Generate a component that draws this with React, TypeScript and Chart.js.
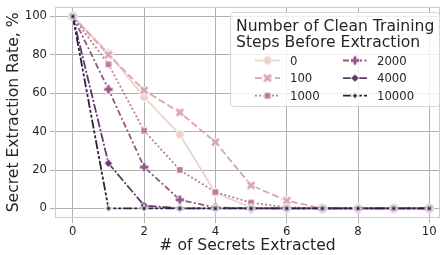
import React, { useEffect, useRef } from 'react';
import { Chart, registerables } from 'chart.js';

Chart.register(...registerables);

const xValues = [0, 1, 2, 3, 4, 5, 6, 7, 8, 9, 10];
const seriesLabels = ['0', '100', '1000', '2000', '4000', '10000'];
const s0 = [100, 81, 58, 38.5, 8, 0.5, 0, 0, 0, 0, 0];
const s100 = [100, 80, 61.5, 50, 34.5, 12, 4, 0, 0, 0, 0];
const s1000 = [100, 75, 40.5, 20, 8.5, 3, 0.5, 0, 0, 0, 0];
const s2000 = [100, 62, 21.5, 4.5, 0.5, 0, 0, 0, 0, 0, 0];
const s4000 = [100, 23.5, 1.5, 0, 0, 0, 0, 0, 0, 0, 0];
const s10000 = [100, 0, 0, 0, 0, 0, 0, 0, 0, 0, 0];
const seriesValues = [s0, s100, s1000, s2000, s4000, s10000];
const xTicks = [0, 2, 4, 6, 8, 10];
const yTicks = [0, 20, 40, 60, 80, 100];
const xTitle = '# of Secrets Extracted';
const yTitle = 'Secret Extraction Rate, %';
const legendTitle = ['Number of Clean Training', 'Steps Before Extraction'];

const colors = ['#edd1cb', '#daa4ac', '#bd7a98', '#935685', '#613969', '#2d1e3e'];
const dashes = [[], [7, 3], [2, 2.2], [6, 2.5, 2, 2.5], [9, 2, 2, 2], [9, 2, 3, 2, 3, 2]];
const markerKinds = ['circle', 'x', 'square', 'plus', 'diamond', 'star'];
const FONT = '"DejaVu Sans", sans-serif';
const TEXT = '#262626';
const LW = 1.8;

function makeMarker(kind: string, color: string): HTMLCanvasElement {
  const c = document.createElement('canvas');
  c.width = 14;
  c.height = 14;
  const g = c.getContext('2d') as CanvasRenderingContext2D;
  g.translate(7, 7);
  g.fillStyle = color;
  g.strokeStyle = '#ffffff';
  g.lineWidth = 1;
  if (kind === 'circle') {
    g.beginPath();
    g.arc(0, 0, 4.4, 0, Math.PI * 2);
    g.fill();
    g.stroke();
  } else if (kind === 'square') {
    g.beginPath();
    g.rect(-3.3, -3.3, 6.6, 6.6);
    g.fill();
    g.stroke();
  } else if (kind === 'diamond') {
    const r = 4.3;
    g.beginPath();
    g.moveTo(0, -r);
    g.lineTo(r, 0);
    g.lineTo(0, r);
    g.lineTo(-r, 0);
    g.closePath();
    g.fill();
    g.stroke();
  } else if (kind === 'star') {
    const R = 4.4;
    const r = 1.7;
    g.beginPath();
    for (let k = 0; k < 8; k++) {
      const a = -Math.PI / 2 + (k * Math.PI) / 4;
      const rad = k % 2 === 0 ? R : r;
      const px = Math.cos(a) * rad;
      const py = Math.sin(a) * rad;
      if (k === 0) g.moveTo(px, py);
      else g.lineTo(px, py);
    }
    g.closePath();
    g.fill();
    g.stroke();
  } else {
    const cross = kind === 'x';
    const L = cross ? 3.3 : 4.2;
    const path = (ext: number) => {
      g.beginPath();
      if (cross) {
        g.moveTo(-L - ext, -L - ext);
        g.lineTo(L + ext, L + ext);
        g.moveTo(-L - ext, L + ext);
        g.lineTo(L + ext, -L - ext);
      } else {
        g.moveTo(-L - ext, 0);
        g.lineTo(L + ext, 0);
        g.moveTo(0, -L - ext);
        g.lineTo(0, L + ext);
      }
    };
    g.lineCap = 'butt';
    path(0.6);
    g.strokeStyle = '#ffffff';
    g.lineWidth = 4.6;
    g.stroke();
    path(0);
    g.strokeStyle = color;
    g.lineWidth = 2.8;
    g.stroke();
  }
  return c;
}

export default function App() {
  const ref = useRef<HTMLCanvasElement | null>(null);

  useEffect(() => {
    document.body.style.margin = '0';
    const canvas = ref.current;
    if (!canvas) return;
    Chart.defaults.font.family = FONT;
    const markers = markerKinds.map((k, i) => makeMarker(k, colors[i]));

    const decor = {
      id: 'decor',
      beforeDatasetsDraw(chart: any) {
        const { ctx, chartArea } = chart;
        ctx.save();
        ctx.strokeStyle = '#cccccc';
        ctx.lineWidth = 1;
        ctx.strokeRect(
          Math.round(chartArea.left) + 0.5,
          Math.round(chartArea.top) + 0.5,
          Math.round(chartArea.right - chartArea.left) - 1,
          Math.round(chartArea.bottom - chartArea.top) - 1
        );
        ctx.restore();
      },
      afterDraw(chart: any) {
        const ctx = chart.ctx as CanvasRenderingContext2D;
        ctx.save();
        const bx = 230.5, by = 12.5, bw = 209, bh = 94, br = 3;
        ctx.beginPath();
        ctx.moveTo(bx + br, by);
        ctx.lineTo(bx + bw - br, by);
        ctx.arcTo(bx + bw, by, bx + bw, by + br, br);
        ctx.lineTo(bx + bw, by + bh - br);
        ctx.arcTo(bx + bw, by + bh, bx + bw - br, by + bh, br);
        ctx.lineTo(bx + br, by + bh);
        ctx.arcTo(bx, by + bh, bx, by + bh - br, br);
        ctx.lineTo(bx, by + br);
        ctx.arcTo(bx, by, bx + br, by, br);
        ctx.closePath();
        ctx.fillStyle = 'rgba(255,255,255,0.8)';
        ctx.fill();
        ctx.strokeStyle = '#d6d6d6';
        ctx.lineWidth = 1;
        ctx.stroke();

        ctx.fillStyle = TEXT;
        ctx.font = `15.6px ${FONT}`;
        ctx.textAlign = 'left';
        ctx.textBaseline = 'alphabetic';
        ctx.fillText(legendTitle[0], 236, 30.5);
        ctx.fillText(legendTitle[1], 236, 47);

        chart.data.datasets.forEach((ds: any, i: number) => {
          const col = Math.floor(i / 3);
          const row = i % 3;
          const cy = 60.5 + row * 17.6;
          const x0 = col ? 343 : 255;
          const x1 = col ? 367 : 280;
          const lx = col ? 377 : 290;
          ctx.save();
          ctx.strokeStyle = colors[i];
          ctx.lineWidth = LW;
          ctx.setLineDash(dashes[i]);
          ctx.beginPath();
          ctx.moveTo(x0, cy);
          ctx.lineTo(x1, cy);
          ctx.stroke();
          ctx.restore();
          const m = markers[i];
          ctx.drawImage(m, (x0 + x1) / 2 - m.width / 2, cy - m.height / 2);
          ctx.fillStyle = TEXT;
          ctx.font = `11.7px ${FONT}`;
          ctx.fillText(ds.label, lx, cy + 4.3);
        });
        ctx.restore();
      },
    };

    const chart = new Chart(canvas, {
      type: 'line',
      data: {
        datasets: seriesValues.map((vals, i) => ({
          label: seriesLabels[i],
          data: xValues.map((x, j) => ({ x, y: vals[j] })),
          borderColor: colors[i],
          backgroundColor: colors[i],
          borderWidth: LW,
          borderDash: dashes[i],
          pointStyle: markers[i] as any,
          pointRadius: 5,
          tension: 0,
          fill: false,
          order: seriesValues.length - i,
          clip: false as any,
        })),
      },
      options: {
        animation: false,
        responsive: false,
        devicePixelRatio: 1,
        layout: { padding: { top: 5, right: 7, left: 0, bottom: 0 } },
        plugins: {
          legend: { display: false },
          tooltip: { enabled: false },
        },
        scales: {
          x: {
            type: 'linear',
            min: -0.5,
            max: 10.3,
            afterBuildTicks: (s: any) => {
              s.ticks = xTicks.map((v) => ({ value: v }));
            },
            afterFit: (s: any) => {
              s.height = 37;
              s.paddingLeft = 0;
              s.paddingRight = 0;
              s.paddingTop = 0;
              s.paddingBottom = 0;
            },
            ticks: {
              autoSkip: false,
              maxRotation: 0,
              color: TEXT,
              font: { size: 11.7, family: FONT },
              padding: 2,
            },
            grid: { color: '#b0b0b0', lineWidth: 1, tickLength: 5, drawTicks: true },
            border: { display: false },
            title: {
              display: true,
              text: xTitle,
              color: TEXT,
              font: { size: 15.6, family: FONT },
              padding: { top: 0, bottom: 0 },
            },
          },
          y: {
            type: 'linear',
            min: -5,
            max: 105,
            afterBuildTicks: (s: any) => {
              s.ticks = yTicks.map((v) => ({ value: v }));
            },
            afterFit: (s: any) => {
              s.width = 55;
              s.paddingLeft = 0;
              s.paddingRight = 0;
              s.paddingTop = 0;
              s.paddingBottom = 0;
            },
            ticks: {
              autoSkip: false,
              color: TEXT,
              font: { size: 11.7, family: FONT },
              padding: 3,
            },
            grid: { color: '#b0b0b0', lineWidth: 1, tickLength: 5, drawTicks: true },
            border: { display: false },
            title: {
              display: true,
              text: yTitle,
              color: TEXT,
              font: { size: 15.6, family: FONT },
              padding: { top: 5, bottom: 0 },
            },
          },
        },
      },
      plugins: [decor],
    } as any);

    return () => {
      chart.destroy();
    };
  }, []);

  return (
    <canvas
      ref={ref}
      width={447}
      height={255}
      style={{ display: 'block', position: 'absolute', left: 0, top: 0, width: 447, height: 255 }}
    />
  );
}
